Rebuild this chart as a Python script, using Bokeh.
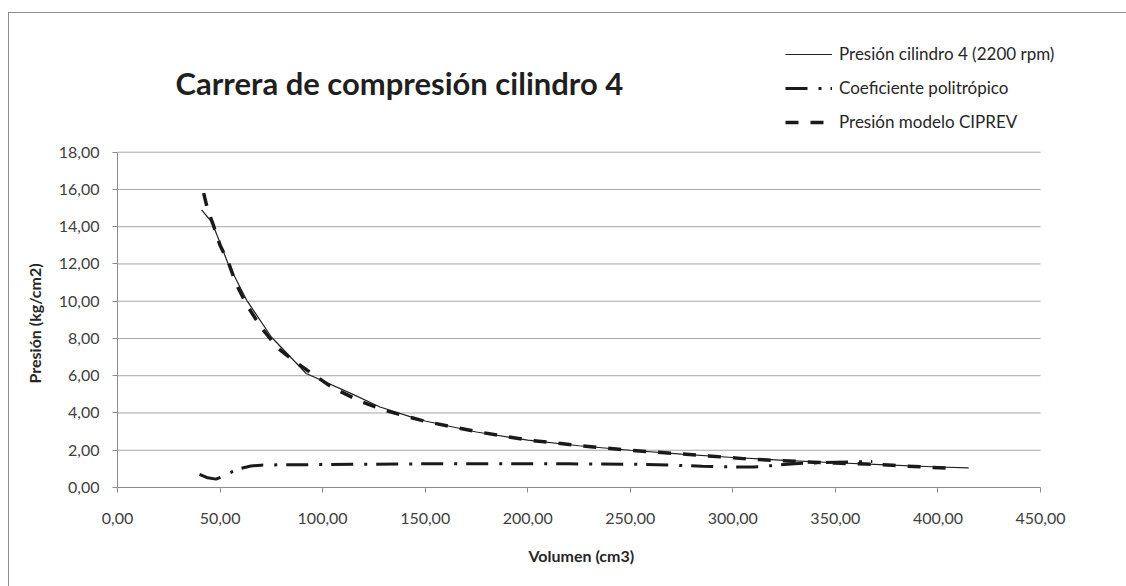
from bokeh.plotting import figure
from bokeh.models import (Range1d, FixedTicker, CustomJSTickFormatter, Legend, LegendItem, Label, Title)
from bokeh.embed import file_html
from bokeh.resources import INLINE

# ---- data ----
vol_real = [41, 46, 54, 63, 75, 92, 114, 128, 143, 150, 175, 200, 225, 250, 275, 300, 325, 350, 375, 400, 415]
pres_real = [14.9, 14.25, 12.0, 10.05, 8.08, 6.12, 5.04, 4.32, 3.79, 3.57, 2.98, 2.54, 2.24, 2.0, 1.79, 1.61, 1.46, 1.33, 1.21, 1.10, 1.05]

vol_coef = [40, 44, 48, 52, 56, 60, 65, 70, 80, 100, 120, 150, 180, 200, 220, 250, 270, 285, 300, 310, 320, 330, 340, 350, 360, 368]
coef = [0.70, 0.52, 0.45, 0.62, 0.85, 1.02, 1.15, 1.20, 1.22, 1.23, 1.25, 1.27, 1.28, 1.28, 1.27, 1.25, 1.20, 1.14, 1.10, 1.10, 1.18, 1.28, 1.32, 1.36, 1.38, 1.40]

vol_model = [42, 44, 47, 50, 54, 58, 63, 70, 78, 86, 95, 105, 118, 130, 140, 150, 175, 200, 225, 250, 275, 290, 305, 320, 335, 350, 365, 378, 393, 408]
pres_model = [15.8, 14.9, 14.0, 13.0, 12.1, 10.9, 9.8, 8.6, 7.5, 6.8, 6.1, 5.35, 4.65, 4.15, 3.85, 3.55, 3.0, 2.55, 2.25, 2.0, 1.8, 1.68, 1.55, 1.46, 1.38, 1.31, 1.26, 1.19, 1.10, 1.02]

x_ticks = [0, 50, 100, 150, 200, 250, 300, 350, 400, 450]
y_ticks = [0, 2, 4, 6, 8, 10, 12, 14, 16, 18]

title_text = "Carrera de compresión cilindro 4"
x_label = "Volumen (cm3)"
y_label = "Presión (kg/cm2)"
series_names = ["Presión cilindro 4 (2200 rpm)", "Coeficiente politrópico", "Presión modelo CIPREV"]

FONT = "Lato"
GRID = "#a6a6a6"
AXIS = "#8c8c8c"
TXT = "#404040"

# layout (pixels): plot area 117..1040 x 152..487 ; drawing frame extended up/right for title & legend
W, H = 1126, 586
FL, FR, FT, FB = 117, 1070, 20, 487
PLOT_R, PLOT_T = 1040, 151.7
x_end = x_ticks[-1] * (FR - FL) / (PLOT_R - FL)
y_end = y_ticks[-1] * (FB - FT) / (FB - PLOT_T)

p = figure(width=W, height=H, output_backend="svg", toolbar_location=None,
           x_range=Range1d(0, x_end), y_range=Range1d(0, y_end),
           min_border_left=FL, min_border_right=W - FR, min_border_top=FT, min_border_bottom=H - FB)
p.styles = {"background": "linear-gradient(#8c8c8c,#8c8c8c) 8px 12px / 1px 100% no-repeat, "
                          "linear-gradient(#8c8c8c,#8c8c8c) 8px 12px / 100% 1px no-repeat"}
p.border_fill_alpha = 0
p.background_fill_alpha = 0
p.outline_line_color = None
p.xgrid.grid_line_color = None
p.ygrid.grid_line_color = None

fmt = CustomJSTickFormatter(code="return tick.toFixed(2).replace('.', ',');")
for ax, ticks in ((p.xaxis[0], x_ticks), (p.yaxis[0], y_ticks)):
    ax.ticker = FixedTicker(ticks=ticks)
    ax.bounds = (ticks[0], ticks[-1])
    ax.formatter = fmt
    ax.axis_line_color = AXIS
    ax.major_tick_line_color = AXIS
    ax.major_tick_in = 0
    ax.major_tick_out = 5
    ax.minor_tick_line_color = None
    ax.major_label_text_font = FONT
    ax.major_label_text_font_size = "16px"
    ax.major_label_text_color = TXT
p.xaxis.major_label_standoff = 20
p.yaxis.major_label_standoff = 13

# horizontal grid lines at the y ticks, limited to the plot area
p.segment(x0=[x_ticks[0]] * (len(y_ticks) - 1), x1=[x_ticks[-1]] * (len(y_ticks) - 1),
          y0=y_ticks[1:], y1=y_ticks[1:], line_color=GRID, line_width=1)

r1 = p.line(vol_real, pres_real, line_color="#222222", line_width=1.2)
r2 = p.line(vol_coef, coef, line_color="#1a1a1a", line_width=3, line_dash="22 11 3 9")
r3 = p.line(vol_model, pres_model, line_color="#1a1a1a", line_width=3.5, line_dash="13 12")

legend = Legend(items=[LegendItem(label=series_names[0], renderers=[r1]),
                       LegendItem(label=series_names[1], renderers=[r2]),
                       LegendItem(label=series_names[2], renderers=[r3])],
                location=(785 - FL, FB - 132), glyph_width=47, glyph_height=20, label_height=20,
                label_standoff=7, spacing=13, padding=0, margin=0,
                border_line_color=None, background_fill_alpha=0,
                label_text_font=FONT, label_text_font_size="17px", label_text_color="#262626")
p.add_layout(legend, "center")

title = Label(x=28.3, y=21.71, text=title_text, text_font=FONT, text_font_style="bold",
              text_font_size="31px", text_color="#1f1f1f", text_baseline="alphabetic")
p.add_layout(title)

ylab = Title(text=y_label, align="left", offset=FB - 383, standoff=24,
             text_font=FONT, text_font_style="bold", text_font_size="16px", text_color="#262626")
p.add_layout(ylab, "left")
xlab = Title(text=x_label, align="left", offset=528 - FL, standoff=34,
             text_font=FONT, text_font_style="bold", text_font_size="16px", text_color="#262626")
p.add_layout(xlab, "below")

open("out.html", "w").write(file_html(p, INLINE))
